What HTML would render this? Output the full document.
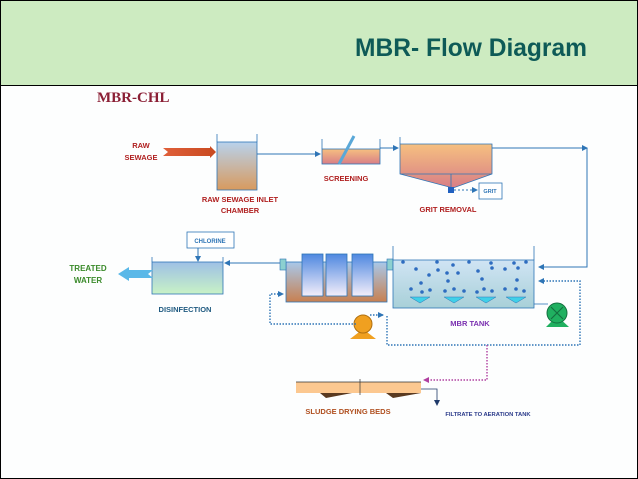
<!DOCTYPE html>
<html><head><meta charset="utf-8"><style>
html,body{margin:0;padding:0;background:#fff}
svg{display:block}
text{font-family:"Liberation Sans",sans-serif;font-weight:bold}
</style></head><body>
<svg width="638" height="479" viewBox="0 0 638 479" xmlns="http://www.w3.org/2000/svg">
<defs>
<linearGradient id="g1" x1="0" y1="0" x2="0" y2="1"><stop offset="0" stop-color="#b8d2ec"/><stop offset="1" stop-color="#d89a5e"/></linearGradient>
<linearGradient id="g2" x1="0" y1="0" x2="0" y2="1"><stop offset="0" stop-color="#f6c080"/><stop offset="1" stop-color="#d87e86"/></linearGradient>
<linearGradient id="g3" x1="0" y1="0" x2="0" y2="1"><stop offset="0" stop-color="#9ec0e6"/><stop offset="1" stop-color="#c8f2c6"/></linearGradient>
<linearGradient id="g4" x1="0" y1="0" x2="0" y2="1"><stop offset="0" stop-color="#a8c8ea"/><stop offset="1" stop-color="#c88050"/></linearGradient>
<linearGradient id="g5" x1="0" y1="0" x2="0" y2="1"><stop offset="0" stop-color="#4e88e0"/><stop offset="1" stop-color="#f4eefa"/></linearGradient>
<linearGradient id="g6" x1="0" y1="0" x2="0" y2="1"><stop offset="0" stop-color="#d0e4f4"/><stop offset="1" stop-color="#a8d0d8"/></linearGradient>
<linearGradient id="ar" x1="0" y1="0" x2="1" y2="0"><stop offset="0" stop-color="#e0603a"/><stop offset="1" stop-color="#c84a20"/></linearGradient>
<marker id="a" markerWidth="6" markerHeight="6" refX="5" refY="3" orient="auto" markerUnits="userSpaceOnUse"><path d="M0,0 L6,3 L0,6z" fill="#2e75b6"/></marker>
<marker id="ad" markerWidth="6" markerHeight="6" refX="5" refY="3" orient="auto" markerUnits="userSpaceOnUse"><path d="M0,0 L6,3 L0,6z" fill="#1f3a6a"/></marker>
<marker id="ap" markerWidth="6" markerHeight="6" refX="5" refY="3" orient="auto" markerUnits="userSpaceOnUse"><path d="M0,0 L6,3 L0,6z" fill="#b040a0"/></marker>
</defs>
<rect x="0.5" y="0.5" width="637" height="478" fill="#fdfefe" stroke="#000"/>
<rect x="0.5" y="0.5" width="637" height="85" fill="#cdebc1" stroke="#000"/>
<text x="355" y="56" font-size="25" fill="#0e5a57" textLength="232" lengthAdjust="spacingAndGlyphs">MBR- Flow Diagram</text>
<text x="97" y="102" font-size="15" fill="#8b1f35" style="font-family:'Liberation Serif',serif">MBR-CHL</text>

<g font-size="7.5" fill="#b02020" text-anchor="middle">
<text x="141" y="148">RAW</text><text x="141" y="160">SEWAGE</text>
<text x="240" y="202">RAW SEWAGE  INLET</text><text x="240" y="213">CHAMBER</text>
<text x="346" y="181">SCREENING</text>
<text x="448" y="212">GRIT REMOVAL</text>
</g>
<path d="M163,148 L210,148 L210,146 L216,152 L210,158 L210,156 L163,156 L168,152z" fill="url(#ar)"/>
<rect x="217" y="142" width="40" height="48" fill="url(#g1)" stroke="#2e75b6" stroke-width="0.8"/>
<path d="M217,134V142M257,134V142" stroke="#2e75b6" stroke-width="0.8"/>
<line x1="257" y1="154" x2="320" y2="154" stroke="#2e75b6" marker-end="url(#a)"/>
<rect x="322" y="149" width="58" height="15" fill="url(#g2)" stroke="#2e75b6" stroke-width="0.8"/>
<path d="M322,139V149M380,139V149" stroke="#2e75b6" stroke-width="0.8"/>
<line x1="339" y1="164" x2="354" y2="136" stroke="#5aa8d8" stroke-width="3"/>
<line x1="380" y1="148" x2="398" y2="148" stroke="#2e75b6" marker-end="url(#a)"/>
<path d="M400,144H492V174L453,188L400,174z" fill="url(#g2)" stroke="#2e75b6" stroke-width="0.8"/>
<path d="M400,137V144M400,174H492M451,174V188" stroke="#2e75b6" stroke-width="0.8"/>
<rect x="448" y="187" width="6" height="6" fill="#2060c0"/>
<line x1="454" y1="190" x2="477" y2="190" stroke="#2e75b6" stroke-dasharray="2,2" marker-end="url(#a)"/>
<rect x="479" y="183" width="23" height="16" fill="#fff" stroke="#2e75b6" stroke-width="0.8"/>
<text x="490" y="193" font-size="5.5" fill="#2e75b6" text-anchor="middle">GRIT</text>
<path d="M492,148H587" stroke="#2e75b6" marker-end="url(#a)" fill="none"/>
<path d="M587,148V267H539" stroke="#2e75b6" marker-end="url(#a)" fill="none"/>

<rect x="187" y="232" width="47" height="16" fill="#fff" stroke="#2e75b6" stroke-width="0.8"/>
<text x="210" y="243" font-size="6" fill="#2e75b6" text-anchor="middle">CHLORINE</text>
<line x1="198" y1="248" x2="198" y2="261" stroke="#2e75b6" marker-end="url(#a)"/>
<rect x="152" y="262" width="71" height="32" fill="url(#g3)" stroke="#2e75b6" stroke-width="0.8"/>
<path d="M152,257V262M223,257V262" stroke="#2e75b6" stroke-width="0.8"/>
<path d="M153,270L129,270L129,267L118,274L129,281L129,278L153,278L148,274z" fill="#5ab8e8"/>
<text x="88" y="271" font-size="8" fill="#3a8a2a" text-anchor="middle">TREATED</text>
<text x="88" y="283" font-size="8" fill="#3a8a2a" text-anchor="middle">WATER</text>
<text x="185" y="312" font-size="7.5" fill="#1f5a80" text-anchor="middle">DISINFECTION</text>
<line x1="280" y1="263" x2="225" y2="263" stroke="#2e75b6" marker-end="url(#a)"/>

<rect x="286" y="262" width="101" height="40" fill="url(#g4)" stroke="#2e75b6" stroke-width="0.8"/>
<rect x="280" y="259" width="6" height="11" fill="#8cd0d0" stroke="#2e75b6" stroke-width="0.6"/>
<rect x="387" y="259" width="6" height="11" fill="#8cd0d0" stroke="#2e75b6" stroke-width="0.6"/>
<rect x="302" y="254" width="21" height="42" fill="url(#g5)" stroke="#2e75b6" stroke-width="0.8"/>
<rect x="326" y="254" width="21" height="42" fill="url(#g5)" stroke="#2e75b6" stroke-width="0.8"/>
<rect x="352" y="254" width="21" height="42" fill="url(#g5)" stroke="#2e75b6" stroke-width="0.8"/>

<rect x="393" y="260" width="141" height="48" fill="url(#g6)" stroke="#2e75b6" stroke-width="0.8"/>
<path d="M393,246V260M534,246V260" stroke="#2e75b6" stroke-width="0.8"/>
<g fill="#2e6cc0">
<circle cx="403" cy="262" r="1.8"/><circle cx="416" cy="269" r="1.8"/><circle cx="437" cy="262" r="1.8"/><circle cx="453" cy="265" r="1.8"/><circle cx="469" cy="262" r="1.8"/><circle cx="491" cy="263" r="1.8"/><circle cx="514" cy="263" r="1.8"/><circle cx="526" cy="262" r="1.8"/>
<circle cx="429" cy="275" r="1.8"/><circle cx="438" cy="270" r="1.8"/><circle cx="447" cy="273" r="1.8"/><circle cx="458" cy="273" r="1.8"/><circle cx="478" cy="271" r="1.8"/><circle cx="492" cy="268" r="1.8"/><circle cx="505" cy="269" r="1.8"/><circle cx="518" cy="268" r="1.8"/>
<circle cx="421" cy="283" r="1.8"/><circle cx="448" cy="281" r="1.8"/><circle cx="482" cy="279" r="1.8"/><circle cx="517" cy="280" r="1.8"/>
<circle cx="411" cy="289" r="1.8"/><circle cx="422" cy="292" r="1.8"/><circle cx="430" cy="290" r="1.8"/><circle cx="445" cy="291" r="1.8"/><circle cx="454" cy="289" r="1.8"/><circle cx="464" cy="291" r="1.8"/><circle cx="477" cy="292" r="1.8"/><circle cx="484" cy="289" r="1.8"/><circle cx="492" cy="291" r="1.8"/><circle cx="505" cy="289" r="1.8"/><circle cx="516" cy="289" r="1.8"/><circle cx="524" cy="291" r="1.8"/>
</g>
<g fill="#40d0e8" stroke="#2e75b6" stroke-width="0.5">
<path d="M410,297H430L420,303z"/><path d="M444,297H464L454,303z"/><path d="M476,297H496L486,303z"/><path d="M506,297H526L516,303z"/>
</g>
<path d="M534,304H548" stroke="#2e75b6" stroke-width="0.8"/>
<path d="M546,327L557,316L569,327z" fill="#20b060"/>
<circle cx="557" cy="313" r="10" fill="#20b060" stroke="#147040"/>
<path d="M551,307L563,319M563,307L551,319" stroke="#147040" stroke-width="1.2"/>
<text x="470" y="326" font-size="7.5" fill="#7a30b0" text-anchor="middle">MBR TANK</text>

<path d="M350,339L363,329L376,339z" fill="#f0a020"/>
<circle cx="363" cy="324" r="9" fill="#f0a020" stroke="#b07010"/>
<g fill="none" stroke="#2e75b6" stroke-width="1.4" stroke-dasharray="1.5,1.5">
<path d="M356,324H270V294H283" marker-end="url(#a)"/>
<path d="M370,315H383" marker-end="url(#a)"/>
<path d="M387,316V345H580V281H539" marker-end="url(#a)"/>
</g>
<path d="M487,345V380H424" fill="none" stroke="#b040a0" stroke-width="1.4" stroke-dasharray="1.5,1.5" marker-end="url(#ap)"/>

<rect x="296" y="382" width="125" height="11" fill="#fcc890"/>
<path d="M296,382H421M360,379V395" stroke="#333" stroke-width="0.7"/>
<path d="M296,393H421L393,398L386,393H352L326,398L320,393z" fill="#5a3a20"/>
<path d="M421,389H437V405" fill="none" stroke="#1f3a6a" stroke-width="0.8" marker-end="url(#ad)"/>
<text x="348" y="414" font-size="7.5" fill="#b05020" text-anchor="middle">SLUDGE DRYING BEDS</text>
<text x="488" y="416" font-size="5.8" fill="#2a3a8a" text-anchor="middle">FILTRATE TO AERATION TANK</text>
</svg>
</body></html>
